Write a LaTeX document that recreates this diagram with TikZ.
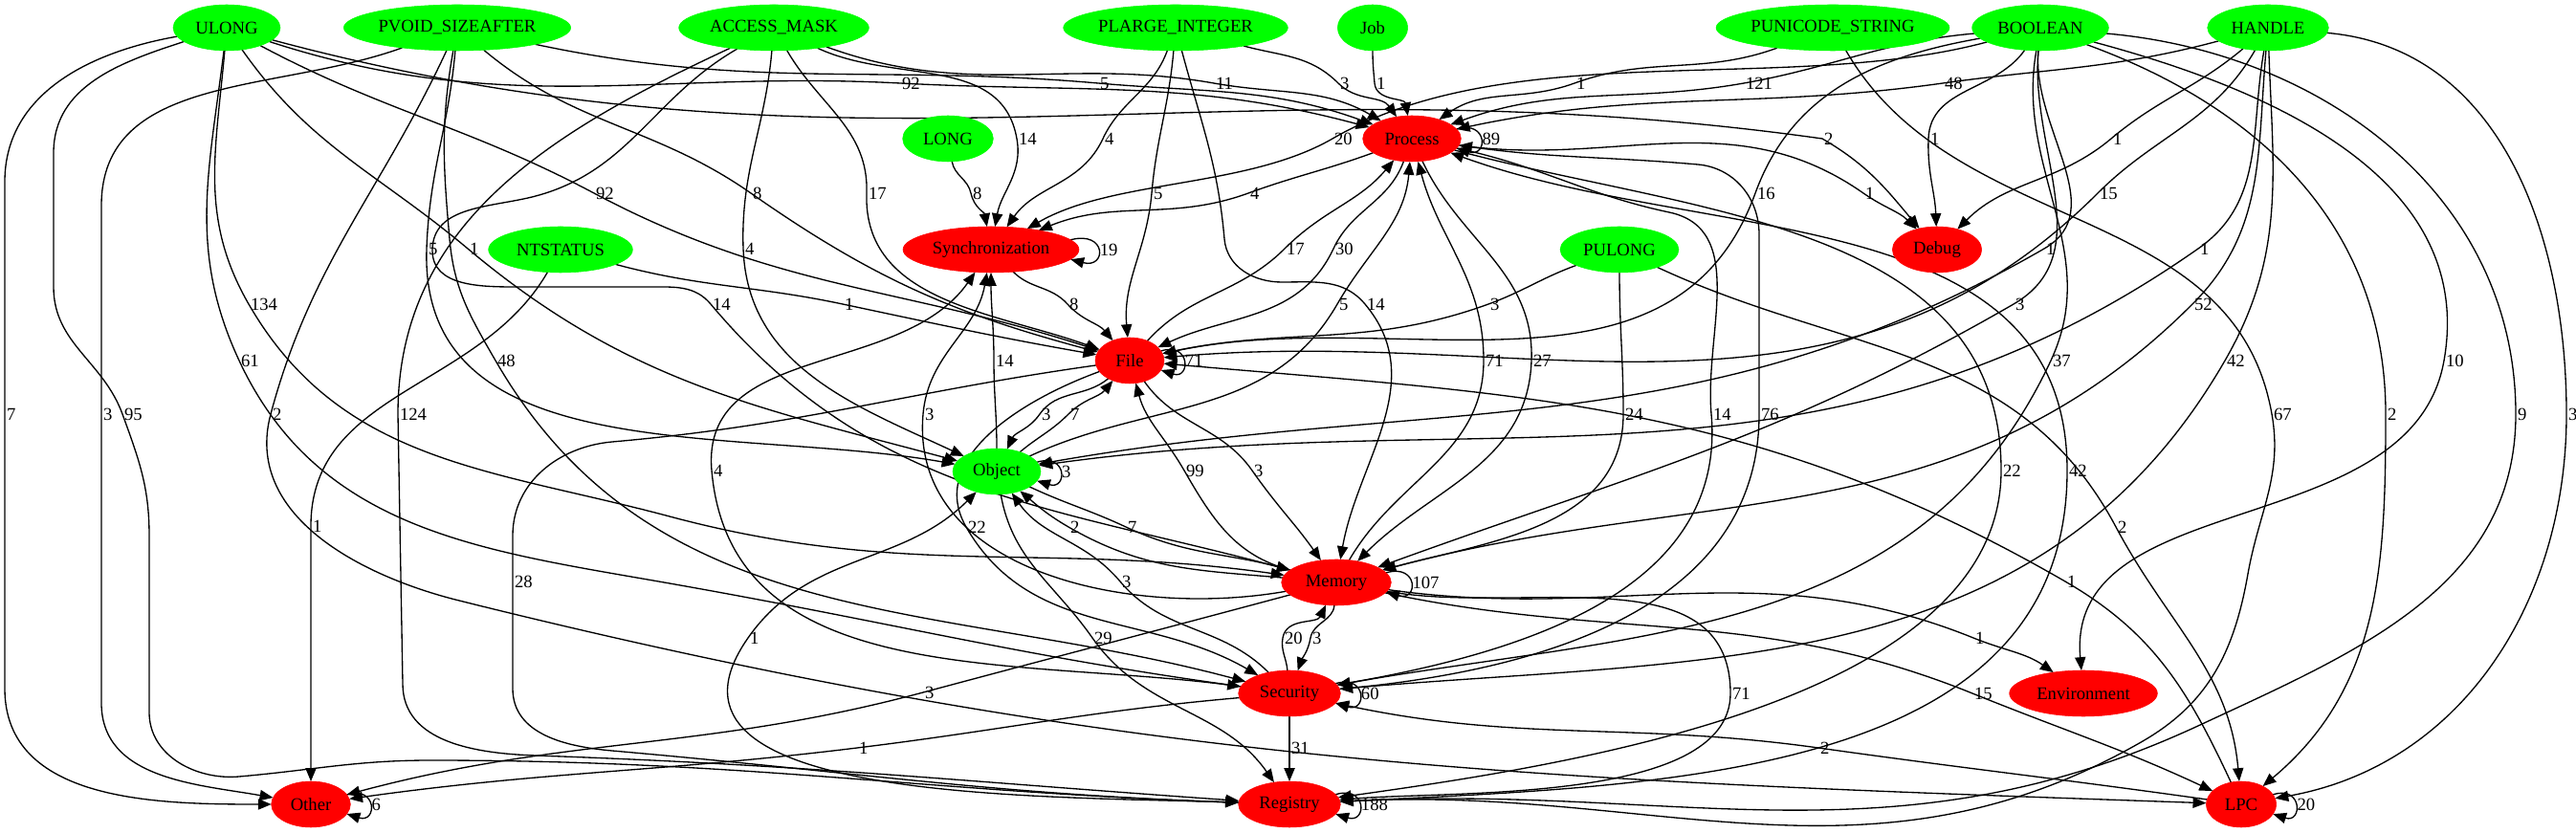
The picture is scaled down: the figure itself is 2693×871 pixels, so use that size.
\documentclass[tikz,border=0pt]{standalone}
\usepackage{fontspec}
\setmainfont{Liberation Serif}
\usetikzlibrary{arrows.meta,shapes.geometric,calc}
\newcommand\gvf{\fontsize{3.5pt}{4pt}\selectfont}
\pgfdeclarelayer{bgl}
\pgfdeclarelayer{edl}
\pgfsetlayers{bgl,edl,main}
\begin{document}
\begin{tikzpicture}[x=0.1875pt,y=0.1875pt,
  gn/.style={ellipse,fill=green,draw=green,line width=0.1pt,minimum height=9pt,inner sep=0pt,outer sep=0pt,font=\gvf},
  rn/.style={ellipse,fill=red,draw=red,line width=0.1pt,minimum height=9pt,inner sep=0pt,outer sep=0pt,font=\gvf},
  ed/.style={draw=black,line width=0.25pt,-{Triangle[length=2.6pt,width=2.1pt]}},
  lbl/.style={font=\gvf,inner sep=0.25pt,anchor=west}]
\begin{pgfonlayer}{bgl}
\fill[white] (0,0) rectangle (2693,-871);
\end{pgfonlayer}
\useasboundingbox (0,0) rectangle (2693,-871);
% nodes
\node[gn,minimum width=21pt]    (U)   at (237,-29)  {ULONG};
\node[gn,minimum width=44.5pt]  (PV)  at (478,-29)  {PVOID\_SIZEAFTER};
\node[gn,minimum width=37.25pt] (AM)  at (809,-29)  {ACCESS\_MASK};
\node[gn,minimum width=44pt]    (PL)  at (1229,-29) {PLARGE\_INTEGER};
\node[gn,minimum width=13.75pt] (J)   at (1435,-29) {Job};
\node[gn,minimum width=45.75pt] (PU)  at (1916,-29) {PUNICODE\_STRING};
\node[gn,minimum width=26.75pt] (B)   at (2133,-29) {BOOLEAN};
\node[gn,minimum width=23.75pt] (H)   at (2371,-29) {HANDLE};
\node[gn,minimum width=17.75pt] (LO)  at (991,-145) {LONG};
\node[rn,minimum width=19.25pt] (P)   at (1476,-145) {Process};
\node[gn,minimum width=28.25pt] (NT)  at (586,-261) {NTSTATUS};
\node[rn,minimum width=34.5pt]  (SY)  at (1036,-261) {Synchronization};
\node[gn,minimum width=23.25pt] (PUL) at (1693,-261) {PULONG};
\node[rn,minimum width=17.5pt]  (D)   at (2025,-261) {Debug};
\node[rn,minimum width=13.5pt]  (F)   at (1181,-377) {File};
\node[gn,minimum width=17.25pt] (O)   at (1042,-493) {Object};
\node[rn,minimum width=21.5pt]  (M)   at (1397,-609) {Memory};
\node[rn,minimum width=20pt]    (S)   at (1348,-725) {Security};
\node[rn,minimum width=29pt]    (E)   at (2178,-725) {Environment};
\node[rn,minimum width=15.5pt]  (OT)  at (325,-841) {Other};
\node[rn,minimum width=20pt]    (R)   at (1348,-841) {Registry};
\node[rn,minimum width=13.75pt] (L)   at (2343,-841) {LPC};

\begin{pgfonlayer}{edl}
% rank 0 -> Process
\draw[ed] (U) to[out=-18,in=177] (941,-87) node[lbl]{92} to[out=-3,in=165] (P);
\draw[ed] (PV) to[out=-12,in=175] (1148,-87) node[lbl]{5} to[out=-5,in=160] (P);
\draw[ed] (AM) to[out=-20,in=170] (1269,-87) node[lbl]{11} to[out=-10,in=150] (P);
\draw[ed] (PL) to[out=-15,in=135] (1399,-87) node[lbl]{3} to[out=-45,in=125] (P);
\draw[ed] (J) to[out=-90,in=95] (1437,-87) node[lbl]{1} to[out=-85,in=100] (P);
\draw[ed] (PU) to[out=200,in=20] (1646,-87) node[lbl]{1} to[out=200,in=35] (P);
\draw[ed] (B) to[out=185,in=10] (1823,-87) node[lbl]{121} to[out=190,in=20] (P);
\draw[ed] (H) to[out=195,in=8] (2031,-87) node[lbl]{48} to[out=188,in=12] (P);

% y=145
\draw[ed] (AM) to[out=-25,in=100] (1063,-145) node[lbl]{14} to[out=-80,in=80] (SY);
\draw[ed] (PL) to[out=-110,in=65] (1153,-145) node[lbl]{4} to[out=-115,in=55] (SY);
\draw[ed,looseness=0.8] (B) to[out=195,in=30] (1393,-145) node[lbl]{20} to[out=-150,in=30] (SY);
\draw[ed] (U) to[out=-15,in=172] (1905,-145) node[lbl]{2} to[out=-30,in=130] (D);
\draw[ed] (B) to[out=-125,in=88] (2016,-145) node[lbl]{1} to[out=-92,in=92] (D);
\draw[ed] (H) to[out=-140,in=40] (2207,-145) node[lbl]{1} to[out=-140,in=45] (D);

% y=202
\draw[ed] (U) to[out=-28,in=152] (621,-202) node[lbl]{92} to[out=-28,in=162] (F);
\draw[ed] (PV) to[out=-40,in=145] (785,-202) node[lbl]{8} to[out=-35,in=165] (F);
\draw[ed] (AM) to[out=-60,in=88] (906,-202) node[lbl]{17} to[out=-92,in=160] (F);
\draw[ed] (LO) to[out=-80,in=102] (1015,-202) node[lbl]{8} to[out=-78,in=100] (SY);
\draw[ed] (PL) to[out=-95,in=85] (1204,-202) node[lbl]{5} to[out=-95,in=95] (F);
\draw[ed] (P) to[out=200,in=20] (1305,-202) node[lbl]{4} to[out=200,in=22] (SY);
\draw[ed] (B) to[out=190,in=70] (1835,-202) node[lbl]{16} to[out=-110,in=12] (F);
\draw[ed] (P) to[out=-8,in=145] (1948,-202) node[lbl]{1} to[out=-35,in=135] (D);
\draw[ed] (H) to[out=-120,in=45] (2193,-202) node[lbl]{15} to[out=-135,in=5] (F);

% y=260
\draw[ed] (PV) to[out=-95,in=88] (446,-260) node[lbl]{5} to[out=-92,in=170] (O);
\draw[ed] (U) to[out=-55,in=140] (489,-260) node[lbl]{1} to[out=-40,in=165] (O);
\draw[ed] (AM) to[out=-95,in=92] (777,-260) node[lbl]{4} to[out=-88,in=155] (O);
\draw[ed] (F) to[out=48,in=225] (1343,-260) node[lbl]{17} to[out=45,in=-130] (P);
\draw[ed] (P) to[out=-110,in=65] (1394,-260) node[lbl]{30} to[out=-115,in=25] (F);
\draw[ed] (B) to[out=-95,in=30] (2137,-260) node[lbl]{1} to[out=-150,in=10] (O);
\draw[ed] (H) to[out=-100,in=35] (2298,-260) node[lbl]{1} to[out=-145,in=8] (O);

% y=318
\draw[ed] (U) to[out=-95,in=120] (260,-318) node[lbl]{134} to[out=-60,in=165] (700,-540) to[out=-15,in=172] (M);
\draw[ed] (AM) to[out=210,in=15] (560,-205) to[out=195,in=90] (452,-262) to[out=-90,in=180] (540,-300) -- (680,-300) to[out=0,in=130] (743,-318) node[lbl]{14} to[out=-50,in=165] (M);
\draw[ed] (NT) to[out=-15,in=168] (881,-318) node[lbl]{1} to[out=-12,in=170] (F);
\draw[ed] (SY) to[out=-45,in=132] (1116,-318) node[lbl]{8} to[out=-48,in=130] (F);
\draw[ed] (O) to[out=25,in=240] (1398,-318) node[lbl]{5} to[out=60,in=-95] (P);
\draw[ed] (PL) to[out=-75,in=95] (1280,-250) to[out=-85,in=180] (1340,-295) to[out=0,in=130] (1427,-318) node[lbl]{14} to[out=-50,in=80] (M);
\draw[ed] (PUL) to[out=200,in=20] (1556,-318) node[lbl]{3} to[out=200,in=12] (F);
\draw[ed] (B) to[out=-95,in=30] (2105,-318) node[lbl]{3} to[out=-150,in=20] (M);
\draw[ed] (H) to[out=-95,in=45] (2292,-318) node[lbl]{52} to[out=-135,in=15] (M);

% y=377
\draw[ed] (U) to[out=-97,in=115] (250,-377) node[lbl]{61} to[out=-65,in=170] (700,-610) to[out=-10,in=172] (S);
\draw[ed] (PV) to[out=-100,in=95] (470,-250) to[out=-85,in=120] (518,-377) node[lbl]{48} to[out=-60,in=165] (S);
\draw[ed] (O) to[out=90,in=-90] (1039,-377) node[lbl]{14} to[out=90,in=-90] (SY);
\draw[ed] (M) to[out=60,in=-90] (1551,-377) node[lbl]{71} to[out=90,in=-75] (P);
\draw[ed] (P) to[out=-65,in=88] (1601,-377) node[lbl]{27} to[out=-92,in=45] (M);
\draw[ed] (B) to[out=-100,in=65] (2144,-377) node[lbl]{37} to[out=-115,in=10] (S);
\draw[ed] (H) to[out=-88,in=60] (2326,-377) node[lbl]{42} to[out=-120,in=5] (S);
\draw[ed] (B) to[out=-15,in=80] (2555,-377) node[lbl]{10} to[out=-100,in=95] (E);

% y=433
\draw[ed] (U) to[out=190,in=90] (5,-190) -- (5,-433) node[lbl]{7} -- (5,-720) to[out=-90,in=180] (OT);
\draw[ed] (PV) to[out=200,in=90] (106,-215) -- (106,-433) node[lbl]{3} -- (106,-735) to[out=-90,in=170] (OT);
\draw[ed] (U) to[out=198,in=90] (56,-160) -- (56,-300) to[out=-90,in=110] (128,-433) node[lbl]{95} to[out=-70,in=90] (156,-560) -- (156,-745) to[out=-90,in=185] (250,-812) to[out=5,in=180] (450,-795) to[out=0,in=178] (R);
\draw[ed] (PV) to[out=-115,in=75] (283,-433) node[lbl]{2} to[out=-105,in=166] (480,-628) to[out=-14,in=178] (L);
\draw[ed] (AM) to[out=205,in=90] (416,-433) node[lbl]{124} -- (421,-715) to[out=-90,in=178] (560,-790) to[out=-2,in=176] (R);
\draw[ed] (M) to[out=190,in=-95] (965,-433) node[lbl]{3} to[out=85,in=-100] (SY);
\draw[ed] (F) to[out=220,in=55] (1087,-433) node[lbl]{3} to[out=235,in=65] (O);
\draw[ed] (O) to[out=40,in=225] (1117,-433) node[lbl]{7} to[out=45,in=230] (F);
\draw[ed] (PUL) to[out=-90,in=90] (1697,-433) node[lbl]{24} to[out=-90,in=15] (M);
\draw[ed] (P) to[out=-12,in=168] (1745,-222) to[out=-12,in=95] (1789,-433) node[lbl]{14} to[out=-85,in=10] (S);
\draw[ed] (S) to[out=5,in=-90] (1839,-433) node[lbl]{76} -- (1839,-245) to[out=90,in=-5] (1775,-172) to[out=175,in=-8] (P);
\draw[ed] (PU) to[out=-60,in=100] (2375,-433) node[lbl]{67} to[out=-80,in=80] (2350,-600) to[out=-100,in=30] (2240,-775) to[out=210,in=3] (R);
\draw[ed] (B) to[out=-20,in=90] (2494,-433) node[lbl]{2} to[out=-90,in=40] (L);
\draw[ed] (B) to[out=-5,in=90] (2630,-433) node[lbl]{9} to[out=-90,in=25] (2300,-758) to[out=205,in=3] (R);
\draw[ed] (H) to[out=-5,in=90] (2683,-433) node[lbl]{3} to[out=-90,in=10] (L);

% lower part
\draw[ed] (NT) to[out=-120,in=90] (325,-550) node[lbl]{1} -- (OT);
\draw[ed] (F) to[out=188,in=5] (640,-462) to[out=185,in=90] (536,-560) -- (536,-608) node[lbl]{28} -- (536,-720) to[out=-90,in=175] (640,-785) to[out=-5,in=178] (R);
\draw[ed] (O) to[out=-80,in=125] (1142,-667) node[lbl]{29} to[out=-55,in=125] (R);
\draw[ed] (R) to[out=178,in=235] (782,-667) node[lbl]{1} to[out=55,in=225] (O);
\draw[ed] (S) to[out=172,in=-85] (744,-492) node[lbl]{4} to[out=95,in=235] (SY);
\draw[ed] (M) to[out=165,in=-60] (1238,-492) node[lbl]{99} to[out=120,in=-75] (F);
\draw[ed] (F) to[out=-55,in=125] (1309,-492) node[lbl]{3} to[out=-55,in=125] (M);
\draw[ed] (M) to[out=175,in=-30] (1117,-551) node[lbl]{2} to[out=150,in=-40] (O);
\draw[ed] (O) to[out=-25,in=155] (1177,-551) node[lbl]{7} to[out=-25,in=165] (M);
\draw[ed] (S) to[out=135,in=-50] (1171,-608) node[lbl]{3} to[out=130,in=-55] (O);
\draw[ed] (F) to[out=200,in=120] (1010,-551) node[lbl]{22} to[out=-60,in=150] (S);
\draw[ed] (S) to[out=95,in=-100] (1341,-667) node[lbl]{20} to[out=80,in=-115] (M);
\draw[ed] (M) to[out=-95,in=80] (1370,-667) node[lbl]{3} to[out=-100,in=70] (S);
\draw[ed] (S) to[out=-90,in=90] (1348,-782) node[lbl]{31} to[out=-90,in=90] (R);
\draw[ed] (M) to[out=-10,in=90] (1809,-725) node[lbl]{71} to[out=-90,in=5,looseness=0.7] (R);
\draw[ed] (M) to[out=-8,in=158] (2063,-667) node[lbl]{1} to[out=-22,in=145] (E);
\draw[ed] (M) to[out=-12,in=158] (2062,-725) node[lbl]{15} to[out=-22,in=155] (L);
\draw[ed] (M) to[out=195,in=15] (965,-724) node[lbl]{3} to[out=195,in=15] (OT);
\draw[ed] (S) to[out=185,in=7] (896,-782) node[lbl]{1} to[out=187,in=8] (OT);
\draw[ed] (L) to[out=172,in=-8] (1901,-782) node[lbl]{2} to[out=172,in=-12] (S);
\draw[ed] (L) to[out=115,in=-30] (2159,-608) node[lbl]{1} to[out=150,in=-5] (F);
\draw[ed] (PUL) to[out=-25,in=118] (2212,-551) node[lbl]{2} to[out=-62,in=95] (L);
\draw[ed] (P) to[out=-15,in=90] (2092,-492) node[lbl]{22} to[out=-90,in=8,looseness=0.8] (R);
\draw[ed] (R) to[out=3,in=-90] (2161,-492) node[lbl]{42} to[out=90,in=-20] (P);

% self loops
\draw[ed] (SY.7) .. controls +(38,10) and +(38,-10) .. (SY.-7) node[lbl,pos=0.5]{19};
\draw[ed] (P.12) .. controls +(33,10) and +(33,-10) .. (P.-12) node[lbl,pos=0.5]{89};
\draw[ed] (F.17) .. controls +(31,10) and +(31,-10) .. (F.-17) node[lbl,pos=0.5]{71};
\draw[ed] (O.13) .. controls +(32,10) and +(32,-10) .. (O.-13) node[lbl,pos=0.5]{3};
\draw[ed] (M.11) .. controls +(34,10) and +(34,-10) .. (M.-11) node[lbl,pos=0.5]{107};
\draw[ed] (S.12) .. controls +(33,10) and +(33,-10) .. (S.-12) node[lbl,pos=0.5]{60};
\draw[ed] (R.12) .. controls +(33,10) and +(33,-10) .. (R.-12) node[lbl,pos=0.5]{188};
\draw[ed] (OT.15) .. controls +(32,10) and +(32,-10) .. (OT.-15) node[lbl,pos=0.5]{6};
\draw[ed] (L.17) .. controls +(31,10) and +(31,-10) .. (L.-17) node[lbl,pos=0.5]{20};
\end{pgfonlayer}
\end{tikzpicture}
\end{document}
